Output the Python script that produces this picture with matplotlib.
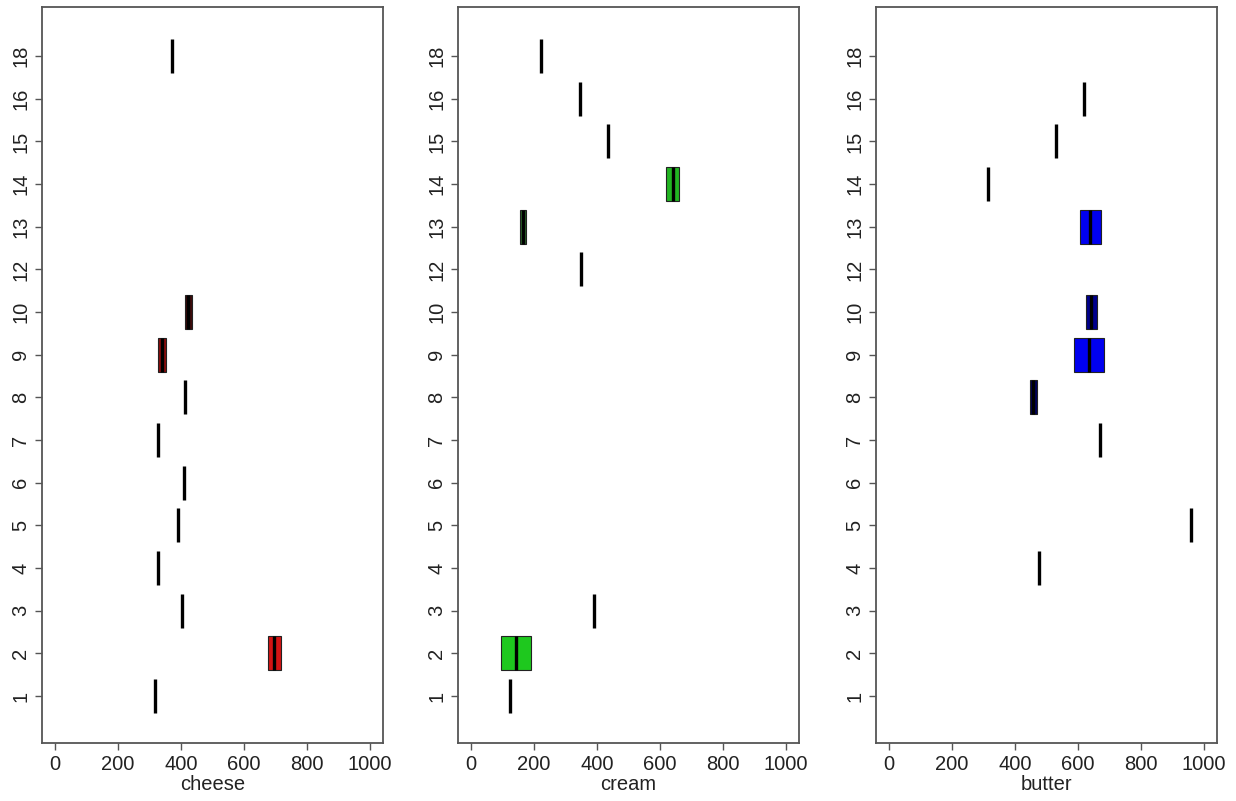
import numpy as np
import matplotlib.pyplot as plt

plt.rcParams['font.family'] = ['Liberation Sans', 'DejaVu Sans']

groups = ['1', '2', '3', '4', '5', '6', '7', '8', '9', '10', '12', '13', '14', '15', '16', '18']
nan = np.nan

# q1, median, q3 per group (single values have q1 = med = q3)
cheese_q1 = [317, 676, 403, 327, 390, 410, 327, 413, 327, 413, nan, nan, nan, nan, nan, 371]
cheese_med = [317, 695, 403, 327, 390, 410, 327, 413, 340, 424, nan, nan, nan, nan, nan, 371]
cheese_q3 = [317, 717, 403, 327, 390, 410, 327, 413, 352, 435, nan, nan, nan, nan, nan, 371]
cheese_col = {1: '#d41414', 8: '#8a0d0d', 9: '#3e0b0b'}

cream_q1 = [124, 95, 390, nan, nan, nan, nan, nan, nan, nan, 349, 156, 619, 435, 346, 222]
cream_med = [124, 143, 390, nan, nan, nan, nan, nan, nan, nan, 349, 165, 641, 435, 346, 222]
cream_q3 = [124, 190, 390, nan, nan, nan, nan, nan, nan, nan, 349, 175, 660, 435, 346, 222]
cream_col = {1: '#1ec81e', 11: '#2a6a2a', 12: '#22b422'}

butter_q1 = [nan, nan, nan, 476, 959, nan, 670, 448, 587, 625, nan, 606, 314, 530, 619, nan]
butter_med = [nan, nan, nan, 476, 959, nan, 670, 459, 635, 641, nan, 638, 314, 530, 619, nan]
butter_q3 = [nan, nan, nan, 476, 959, nan, 670, 470, 683, 660, nan, 673, 314, 530, 619, nan]
butter_col = {7: '#00005a', 8: '#0000f0', 9: '#00008c', 11: '#0000f0'}

panels = [
    ('cheese', cheese_q1, cheese_med, cheese_q3, cheese_col),
    ('cream', cream_q1, cream_med, cream_q3, cream_col),
    ('butter', butter_q1, butter_med, butter_q3, butter_col),
]

fig = plt.figure(figsize=(12.36, 8.01), dpi=100)
lefts = [42, 458, 876]
frame = '#555555'

for left, (name, q1, med, q3, cols) in zip(lefts, panels):
    ax = fig.add_axes([left / 1236, 1 - 743 / 801, 341 / 1236, 736 / 801])
    pos = np.arange(1, len(groups) + 1)
    stats = []
    spos = []
    for i in range(len(groups)):
        if np.isnan(med[i]):
            continue
        stats.append(dict(med=med[i], q1=q1[i], q3=q3[i],
                          whislo=q1[i], whishi=q3[i], fliers=[]))
        spos.append(pos[i])
    bp = ax.bxp(stats, positions=spos, widths=0.8, orientation='horizontal',
                patch_artist=True, showcaps=False,
                medianprops=dict(color='black', linewidth=2.4, solid_capstyle='butt'),
                whiskerprops=dict(linewidth=0),
                boxprops=dict(linewidth=0.8))
    k = 0
    for i in range(len(groups)):
        if np.isnan(med[i]):
            continue
        box = bp['boxes'][k]
        if i in cols:
            box.set_facecolor(cols[i])
            box.set_edgecolor('#222222')
        else:
            box.set_facecolor('none')
            box.set_edgecolor('none')
        k += 1

    ax.set_xlim(-41, 1042)
    ax.set_ylim(-0.1, 17.15)
    ax.set_xticks([0, 200, 400, 600, 800, 1000])
    ax.set_yticks(pos)
    ax.set_yticklabels(groups, rotation=90, va='center')
    ax.tick_params(labelsize=14.5, colors=frame, labelcolor='#222222', length=5, width=1)
    for s in ax.spines.values():
        s.set_color(frame)
        s.set_linewidth(1.3)
    ax.set_xlabel(name, fontsize=14.5, color='#222222', labelpad=1)

fig.savefig('out.png', dpi=100, facecolor='white')
